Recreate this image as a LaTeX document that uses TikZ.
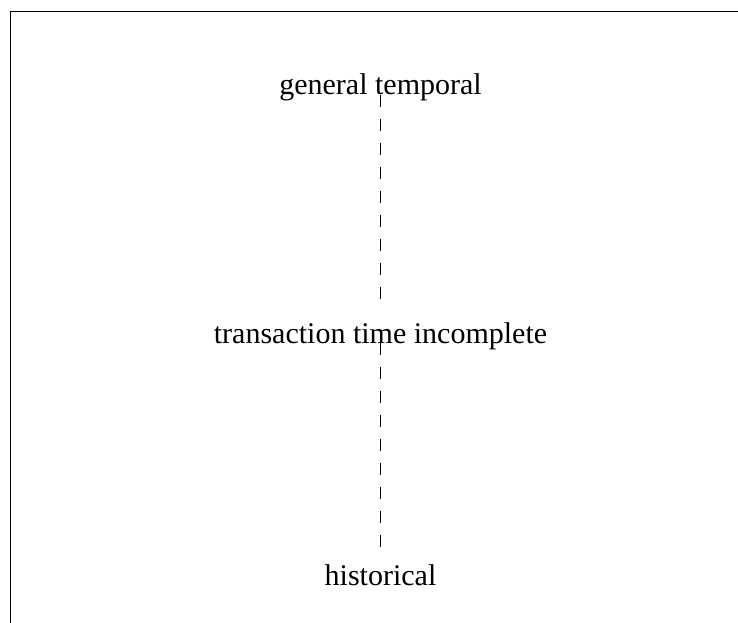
\documentclass[tikz,border=0pt]{standalone}
\usepackage{fontspec}
\setmainfont{Liberation Serif}

\begin{document}
\begin{tikzpicture}[x=1pt, y=-1pt, every node/.style={font=\fontsize{30}{36}\selectfont, anchor=base},
    link/.style={dash pattern=on 12pt off 12pt, line width=1pt, shorten >=38pt}]
      \useasboundingbox (0,0) rectangle (738,623);
      \draw[line width=1pt] (738,12) -- (10.7,12) -- (10.7,623);
      \node (gt) at (380.5,95) {general temporal};
      \node (tti) at (380.5,343) {transaction time incomplete};
      \node (hi) at (380.5,585) {historical};
      \draw[link] (gt.base) -- (tti.base); \draw[link] (tti.base) -- (hi.base);
    \end{tikzpicture}
\end{document}
